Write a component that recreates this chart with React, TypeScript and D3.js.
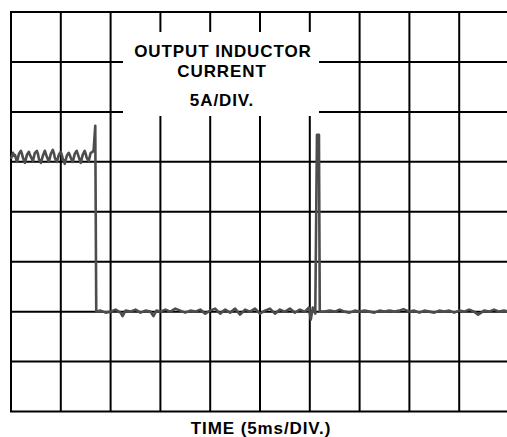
import React from "react";
import * as d3 from "d3";

const timeTicks = [0, 5, 10, 15, 20, 25, 30, 35, 40, 45, 50]; // ms
const currentTicks = [-10, -5, 0, 5, 10, 15, 20, 25, 30]; // A

const highLevel: [number, number][] = [
  [0.0, 15.3], [0.2, 15.9], [0.3, 15.6], [0.4, 15.7], [0.6, 15.0], [0.8, 15.8], [1.0, 16.1],
  [1.1, 15.8], [1.2, 15.4], [1.4, 14.9], [1.6, 15.7], [1.8, 16.0], [1.9, 15.7], [2.0, 15.5], [2.2, 15.1],
  [2.4, 15.9], [2.6, 16.1], [2.7, 15.8], [2.8, 15.3], [3.0, 14.9], [3.2, 15.6], [3.4, 16.1],
  [3.5, 15.8], [3.6, 15.5], [3.8, 15.0], [4.0, 15.8], [4.2, 16.2], [4.3, 15.9], [4.4, 15.4], [4.6, 15.0],
  [4.8, 15.7], [5.0, 16.0], [5.1, 15.7], [5.2, 15.3], [5.4, 14.8], [5.6, 15.6], [5.8, 15.9],
  [5.9, 15.7], [6.0, 15.4], [6.2, 15.0], [6.4, 15.8], [6.6, 16.1], [6.7, 15.8], [6.8, 15.5], [7.0, 14.9],
  [7.2, 15.7], [7.4, 16.1], [7.5, 15.8], [7.6, 15.4], [7.8, 15.1], [8.0, 15.9], [8.2, 16.0],
];

const firstTransient: [number, number][] = [
  [8.3, 16.2], [8.46, 18.6], [8.56, 0.0],
];

const lowLevelA: [number, number][] = [
  [9.0, 0.1], [9.5, -0.1], [10.0, 0.0], [10.5, 0.2], [11.0, -0.1], [11.2, -0.45],
  [11.5, 0.1], [12.0, 0.0], [12.5, 0.2], [13.0, -0.1], [13.5, 0.1], [14.0, 0.0],
  [14.3, -0.45], [14.6, 0.1], [15.0, 0.0], [15.5, 0.2], [16.0, 0.0], [16.5, 0.3],
  [17.0, 0.1], [17.5, -0.1], [18.0, 0.1], [18.5, 0.0], [19.0, 0.2], [19.5, -0.2],
  [20.0, 0.1], [20.5, 0.3], [21.0, -0.2], [21.5, 0.2], [22.0, -0.1], [22.5, 0.3],
  [23.0, -0.3], [23.5, 0.2], [24.0, 0.0], [24.5, 0.3], [25.0, -0.2], [25.5, 0.1],
  [26.0, 0.3], [26.5, -0.2], [27.0, 0.2], [27.5, 0.0], [28.0, 0.3], [28.5, -0.1],
  [29.0, 0.2], [29.5, 0.0], [29.9, 0.4], [30.1, -0.8], [30.3, 0.4], [30.55, -0.2],
];

const secondTransient: [number, number][] = [
  [30.72, 17.7], [30.92, 17.7], [31.0, 0.0],
];

const lowLevelB: [number, number][] = [
  [31.5, 0.0], [32.0, 0.1], [32.5, 0.0], [33.0, 0.2], [33.5, 0.0], [34.0, -0.1],
  [34.5, 0.1], [35.0, 0.0], [35.5, 0.1], [36.0, 0.0], [36.5, -0.1], [37.0, 0.1],
  [37.5, 0.0], [38.0, 0.1], [38.5, 0.0], [39.0, 0.1], [39.4, 0.25], [40.0, 0.0],
  [40.5, 0.1], [41.0, -0.1], [41.5, 0.1], [42.0, 0.0], [42.5, -0.1], [43.0, 0.1],
  [43.5, 0.0], [44.0, 0.1], [44.5, -0.1], [45.0, 0.1], [45.5, 0.0], [46.0, 0.2],
  [46.5, 0.0], [46.9, -0.3], [47.5, 0.1], [48.0, 0.0], [48.5, 0.2], [49.0, 0.0],
  [49.5, 0.1], [50.0, 0.0],
];

const labelLines = ["OUTPUT INDUCTOR", "CURRENT", "5A/DIV."];
const xTitle = "TIME (5ms/DIV.)";

export default function App() {
  const W = 507;
  const H = 437;
  const x = d3.scaleLinear().domain([0, 50]).range([11, 509]);
  const y = d3.scaleLinear().domain([-10, 30]).range([411.5, 12]);

  const trace = [
    ...highLevel,
    ...firstTransient,
    ...lowLevelA,
    ...secondTransient,
    ...lowLevelB,
  ];
  const line = d3
    .line<[number, number]>()
    .x((d) => x(d[0]))
    .y((d) => y(d[1]));

  const font = "'Liberation Sans', Arial, Helvetica, sans-serif";

  return (
    <svg
      width={W}
      height={H}
      style={{ position: "absolute", left: 0, top: 0, background: "#fff" }}
    >
      <rect x={0} y={0} width={W} height={H} fill="#fff" />
      <g stroke="#000" strokeWidth={2}>
        {timeTicks.map((t) => (
          <line key={"v" + t} x1={x(t)} x2={x(t)} y1={y(30)} y2={y(-10)} />
        ))}
        {currentTicks.map((c) => (
          <line key={"h" + c} x1={x(0) - 1} x2={x(50) + 1} y1={y(c)} y2={y(c)} />
        ))}
      </g>
      <rect x={123} y={32} width={196} height={84} fill="#fff" />
      <g
        fontFamily={font}
        fontWeight="bold"
        fontSize={17}
        fill="#000"
        textAnchor="middle"
        letterSpacing={0.9}
      >
        <text x={223} y={57}>{labelLines[0]}</text>
        <text x={222} y={77}>{labelLines[1]}</text>
        <text x={222} y={106}>{labelLines[2]}</text>
        <text x={261} y={434}>{xTitle}</text>
      </g>
      <path
        d={line(trace) || ""}
        fill="none"
        stroke="#4d4d4d"
        strokeWidth={2.6}
        strokeLinejoin="round"
      />
    </svg>
  );
}
